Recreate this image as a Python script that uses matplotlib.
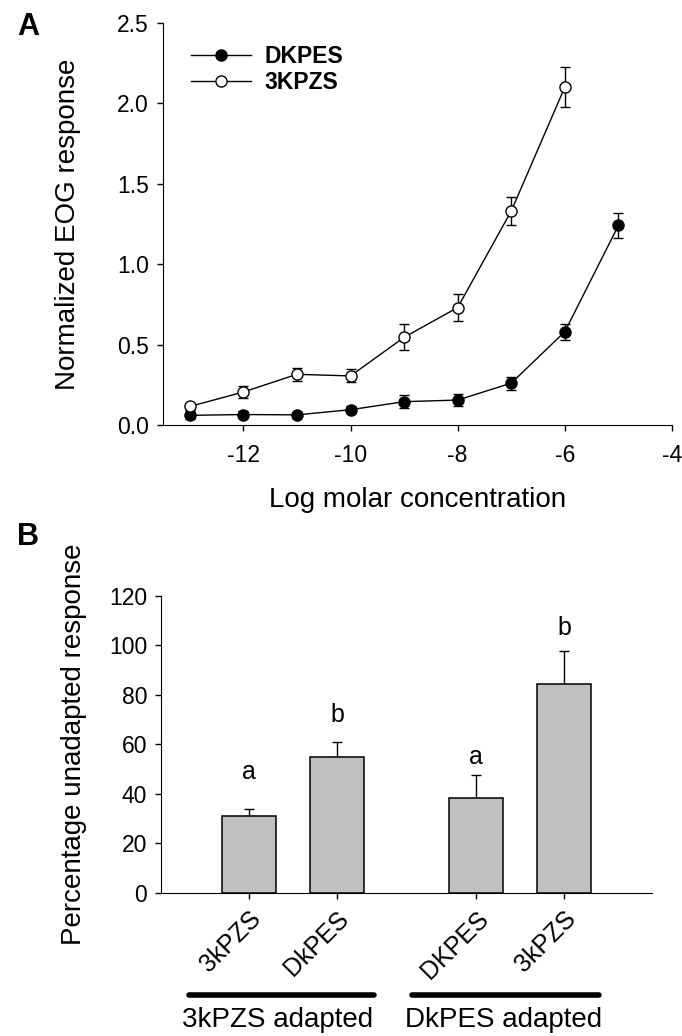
import matplotlib
matplotlib.use("Agg")
import matplotlib.pyplot as plt
import matplotlib.transforms as mtransforms
from matplotlib.lines import Line2D

plt.rcParams["font.family"] = ["Liberation Sans", "DejaVu Sans"]
plt.rcParams["axes.unicode_minus"] = False

# Panel A: concentration-response
log_conc = [-13, -12, -11, -10, -9, -8, -7, -6, -5]
dkpes_mean = [0.06, 0.065, 0.063, 0.095, 0.145, 0.155, 0.26, 0.58, 1.24]
dkpes_err = [0.02, 0.02, 0.02, 0.02, 0.04, 0.04, 0.04, 0.05, 0.08]
kpzs_conc = [-13, -12, -11, -10, -9, -8, -7, -6]
kpzs_mean = [0.115, 0.205, 0.315, 0.305, 0.545, 0.73, 1.33, 2.10]
kpzs_err = [0.02, 0.04, 0.04, 0.04, 0.08, 0.085, 0.085, 0.125]

# Panel B: cross-adaptation
bar_labels = ["3kPZS", "DkPES", "DKPES", "3kPZS"]
bar_values = [31.0, 54.7, 38.4, 84.4]
bar_err = [2.7, 6.4, 9.2, 13.3]
bar_letters = ["a", "b", "a", "b"]
letter_y = [49, 72, 55, 107]
group_labels = ["3kPZS adapted", "DkPES adapted"]

W, H = 682, 1036
fig = plt.figure(figsize=(W / 100, H / 100), dpi=100)

# ---- panel A ----
ax_a = fig.add_axes([163 / W, 1 - 425 / H, 509 / W, 402.3 / H])
ax_a.errorbar(log_conc, dkpes_mean, yerr=dkpes_err, color="black", lw=1,
              marker="o", ms=8, mfc="black", mec="black", capsize=3.5,
              elinewidth=1)
ax_a.errorbar(kpzs_conc, kpzs_mean, yerr=kpzs_err, color="black", lw=1,
              marker="o", ms=8, mfc="white", mec="black", capsize=3.5,
              elinewidth=1)
ax_a.set_xlim(-13.5, -4)
ax_a.set_ylim(0, 2.5)
ax_a.set_xticks([-12, -10, -8, -6, -4])
ax_a.set_yticks([0, 0.5, 1.0, 1.5, 2.0, 2.5])
ax_a.set_yticklabels(["0.0", "0.5", "1.0", "1.5", "2.0", "2.5"])
ax_a.spines["top"].set_visible(False)
ax_a.spines["right"].set_visible(False)
ax_a.tick_params(labelsize=16.5, length=4, width=1, pad=6)
ax_a.tick_params(axis="x", pad=10)
ax_a.set_xlabel("Log molar concentration", fontsize=20, labelpad=14)
ax_a.set_ylabel("Normalized EOG response", fontsize=20, labelpad=26)

handles = [
    Line2D([], [], color="black", lw=1, marker="o", ms=8, mfc="black",
           mec="black"),
    Line2D([], [], color="black", lw=1, marker="o", ms=8, mfc="white",
           mec="black"),
]
ax_a.legend(handles, ["DKPES", "3KPZS"], loc="upper left",
            bbox_to_anchor=(0.055, 0.945), frameon=False,
            prop={"size": 16.5, "weight": "bold"}, handlelength=2.6,
            handletextpad=0.6, labelspacing=0.15, borderpad=0,
            borderaxespad=0)

fig.text(17 / W, 1 - 27 / H, "A", fontsize=22, fontweight="bold",
         va="center", ha="left")

# ---- panel B ----
ax_b = fig.add_axes([161 / W, 1 - 892.7 / H, 491 / W, 296.7 / H])
bar_x = [1, 2, 3.58, 4.58]
ax_b.bar(bar_x, bar_values, width=0.61, color="#c0c0c0",
         edgecolor="black", linewidth=1.1, zorder=2)
ax_b.errorbar(bar_x, bar_values, yerr=[[0] * 4, bar_err], fmt="none",
              ecolor="black", elinewidth=1, capsize=3.5, zorder=1)
for x, ly, letter in zip(bar_x, letter_y, bar_letters):
    ax_b.text(x, ly, letter, fontsize=18, ha="center", va="center")
ax_b.set_xlim(0, 5.58)
ax_b.set_ylim(0, 120)
ax_b.set_yticks(range(0, 121, 20))
ax_b.set_xticks(bar_x)
ax_b.set_xticklabels(bar_labels, rotation=45, ha="right", va="top",
                     rotation_mode="anchor")
ax_b.spines["top"].set_visible(False)
ax_b.spines["right"].set_visible(False)
ax_b.tick_params(labelsize=16.5, length=4, width=1, pad=6)
ax_b.tick_params(axis="x", labelsize=18, pad=6)
ax_b.set_ylabel("Percentage unadapted response", fontsize=20, labelpad=16)

trans = mtransforms.blended_transform_factory(ax_b.transData, ax_b.transAxes)
for x0, x1 in [(0.32, 2.42), (2.85, 4.98)]:
    ax_b.plot([x0, x1], [-0.345, -0.345], color="black", lw=4,
              solid_capstyle="round", transform=trans, clip_on=False)
for xc, text in zip([1.32, 3.89], group_labels):
    ax_b.text(xc, -0.43, text, fontsize=20, ha="center", va="center",
              transform=trans)

fig.text(17 / W, 1 - 537 / H, "B", fontsize=22, fontweight="bold",
         va="center", ha="left")

fig.savefig("out.png", dpi=100)
